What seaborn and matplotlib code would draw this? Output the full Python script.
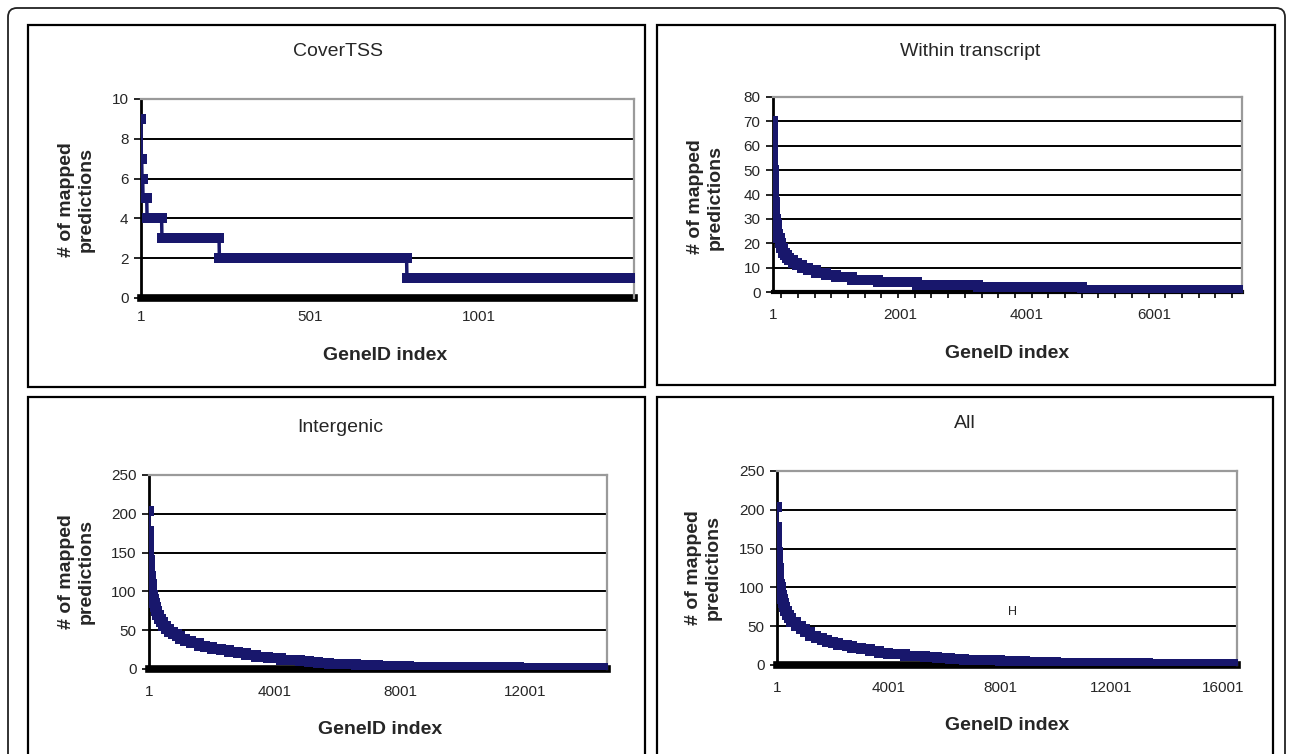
import numpy as np
import matplotlib.pyplot as plt
import seaborn as sns
from matplotlib.patches import Rectangle, FancyBboxPatch
from matplotlib.transforms import IdentityTransform
from matplotlib.ticker import FixedLocator

# Sorted number of mapped predictions per gene, stored as runs:
# each value and how many genes (ranked) share it
tss_values = [9, 7, 6, 5, 4, 3, 2, 1]
tss_counts = [1, 2, 3, 12, 44, 170, 555, 673]

within_values = [70, 68, 65, 62, 58, 55, 52, 50, 47, 45, 42, 40, 37, 35, 32, 30, 28, 26, 24,
                 22, 20, 18, 16, 15, 14, 13, 12, 11, 10, 9, 8, 7, 6, 5, 4, 3, 2, 1]
within_counts = [1, 1, 1, 1, 1, 1, 1, 2, 2, 3, 3, 4, 4, 6, 8, 8, 10, 12, 15,
                 20, 25, 35, 25, 30, 40, 50, 70, 80, 100, 120, 150, 170, 250, 400, 620, 955, 1641, 2525]

inter_values = [203, 178, 170, 160, 150, 140, 130, 120, 110, 100, 95, 90, 85, 80, 75, 70, 65, 60,
                56, 52, 48, 45, 42, 39, 36, 33, 30, 28, 26, 24, 22, 20, 18, 16, 14, 12,
                11, 10, 9, 8, 7, 6, 5, 4, 3, 2, 1]
inter_counts = [1, 2, 2, 4, 5, 10, 15, 20, 30, 20, 20, 25, 25, 40, 40, 60, 60, 80,
                90, 100, 130, 100, 120, 150, 200, 250, 200, 200, 300, 250, 300, 250, 300, 400, 400, 300,
                300, 300, 300, 350, 350, 500, 700, 1000, 1500, 2000, 2801]

all_values = [203, 178, 172, 165, 155, 145, 135, 125, 115, 105, 100, 95, 90, 85, 80, 75, 70, 65,
              60, 55, 50, 46, 42, 38, 35, 32, 30, 28, 26, 24, 22, 20, 18, 16, 14, 12,
              11, 10, 9, 8, 7, 6, 5, 4, 3, 2, 1]
all_counts = [1, 2, 2, 4, 6, 10, 14, 20, 30, 20, 20, 25, 25, 35, 35, 50, 60, 70,
              90, 180, 150, 150, 200, 200, 200, 200, 200, 200, 300, 200, 300, 350, 300, 350, 600, 350,
              350, 450, 450, 500, 500, 800, 900, 1100, 1500, 1800, 3201]

titles = ["CoverTSS", "Within transcript", "Intergenic", "All"]
y_maxes = [10, 80, 250, 250]
y_steps = [2, 10, 50, 50]
x_tick_labels = [[1, 501, 1001],
                 [1, 2001, 4001, 6001],
                 [1, 4001, 8001, 12001],
                 [1, 4001, 8001, 12001, 16001]]

W, H = 1292, 754
navy = "#18176c"

sns.set_style("white")
plt.rcParams['font.family'] = ['Liberation Sans', 'DejaVu Sans']

fig = plt.figure(figsize=(W / 100, H / 100), dpi=100)

# outer rounded frame and the four chart boxes (pixel coords, y from top)
fig.add_artist(FancyBboxPatch((8, -20), 1277, H - 8 + 20, boxstyle="round,pad=0,rounding_size=9",
                              transform=IdentityTransform(), fill=False, lw=1.3, ec="#222222"))
boxes = [(28, 25, 645, 387), (657, 25, 1275, 385), (28, 397, 645, 770), (657, 397, 1273, 770)]
for x0, y0, x1, y1 in boxes:
    fig.add_artist(Rectangle((x0, H - y1), x1 - x0, y1 - y0, transform=IdentityTransform(),
                             fill=False, lw=1.6, ec="black"))

plot_areas = [(141, 99, 634, 298), (773, 97, 1242, 292), (149, 475, 607, 669), (777, 471, 1237, 665)]
title_pos = [(338, 52), (970, 51), (340, 427), (965, 424)]
xlabel_pos = [(385, 355), (1007, 353), (380, 729), (1007, 725)]
ylabel_pos = [(76, 200), (705, 197), (76, 572), (703, 568)]
n_genes = [sum(tss_counts), sum(within_counts), sum(inter_counts), sum(all_counts)]

series = [(tss_values, tss_counts), (within_values, within_counts),
          (inter_values, inter_counts), (all_values, all_counts)]

for i, (vals, cnts) in enumerate(series):
    x0, y0, x1, y1 = plot_areas[i]
    ax = fig.add_axes([x0 / W, 1 - y1 / H, (x1 - x0) / W, (y1 - y0) / H])
    y = np.repeat(vals, cnts)
    x = np.arange(1, len(y) + 1)
    sns.lineplot(x=x, y=y, ax=ax, color=navy, lw=2.5, marker="s",
                 markersize=6.8, markeredgewidth=0, zorder=3)

    n = n_genes[i]
    ax.set_xlim(1, n)
    ax.set_ylim(0, y_maxes[i])
    ax.set_yticks(np.arange(0, y_maxes[i] + 1, y_steps[i]))
    ax.set_xticks(x_tick_labels[i])
    ax.set_xticklabels([str(t) for t in x_tick_labels[i]])
    ax.set_xlabel("")
    ax.set_ylabel("")

    ax.set_axisbelow(True)
    ax.yaxis.grid(True, color="black", lw=1.4)
    ax.xaxis.grid(False)
    for side in ["top", "right"]:
        ax.spines[side].set_color("#9a9a9a")
        ax.spines[side].set_linewidth(1.6)
    ax.spines["left"].set_color("black")
    ax.spines["left"].set_linewidth(2)
    ax.spines["bottom"].set_color("black")
    ax.spines["bottom"].set_linewidth(3 if i == 1 else 5.5)
    ax.spines["bottom"].set_zorder(2)

    ax.tick_params(axis="y", direction="out", length=5, width=1.2, color="black",
                   pad=4, labelsize=11, left=True)
    ax.tick_params(axis="x", which="major", length=0, pad=9 if i == 0 else 11.5, labelsize=11)
    if i == 1:
        ax.xaxis.set_minor_locator(FixedLocator(np.arange(131, n, 263)))
        ax.tick_params(axis="x", which="minor", direction="out", length=4, width=1.2,
                       color="black", bottom=True)

    fig.text(title_pos[i][0] / W, 1 - title_pos[i][1] / H, titles[i], fontsize=14,
             ha="center", va="center")
    fig.text(xlabel_pos[i][0] / W, 1 - xlabel_pos[i][1] / H, "GeneID index", fontsize=14,
             fontweight="bold", ha="center", va="center")
    fig.text(ylabel_pos[i][0] / W, 1 - ylabel_pos[i][1] / H, "# of mapped\npredictions",
             fontsize=14, fontweight="bold", ha="center", va="center", rotation=90,
             linespacing=1.2, multialignment="center")

    if i == 3:
        ax.text(0.511, 0.273, "H", transform=ax.transAxes, fontsize=9,
                ha="center", va="center")

fig.savefig("out.png", dpi=100)
